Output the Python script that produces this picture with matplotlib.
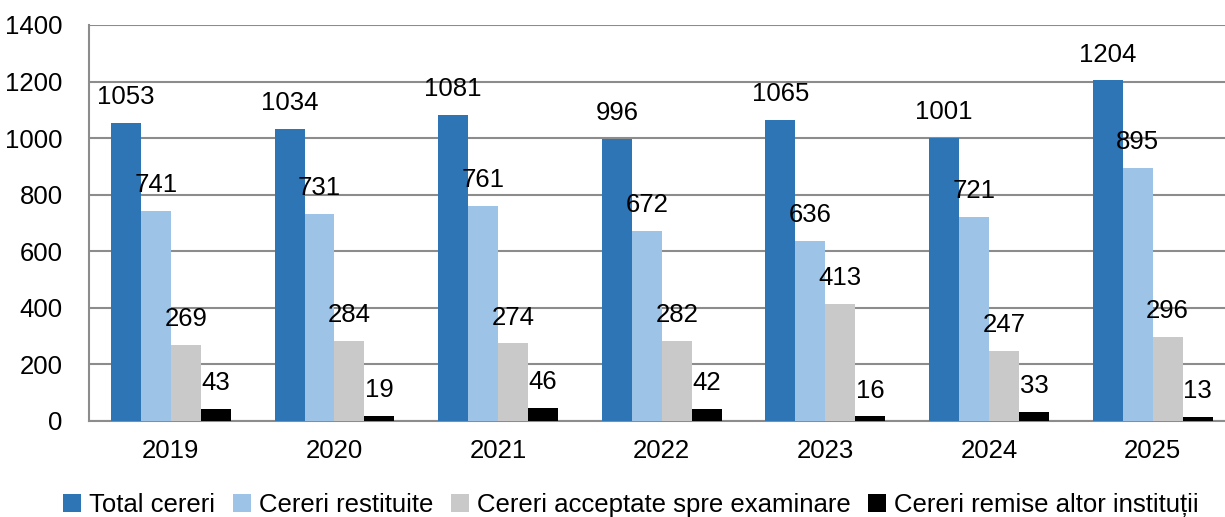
import numpy as np
import matplotlib
matplotlib.use("Agg")
import matplotlib.pyplot as plt

# Data.
years = ["2019", "2020", "2021", "2022", "2023", "2024", "2025"]
total_cereri = [1053, 1034, 1081, 996, 1065, 1001, 1204]
cereri_restituite = [741, 731, 761, 672, 636, 721, 895]
cereri_acceptate = [269, 284, 274, 282, 413, 247, 296]
cereri_remise = [43, 19, 46, 42, 16, 33, 13]

series_labels = ["Total cereri", "Cereri restituite",
                 "Cereri acceptate spre examinare", "Cereri remise altor instituții"]
series_colors = ["#2E75B6", "#9DC3E6", "#C9C9C9", "#000000"]

plt.rcParams['font.family'] = ['Liberation Sans', 'DejaVu Sans']
fs = 18.5

fig = plt.figure(figsize=(12.25, 5.17), dpi=100)
ax = fig.add_axes([0.0727, 0.1857, 0.935, 0.766])

x = np.arange(len(years))
width = 0.183
series = [total_cereri, cereri_restituite, cereri_acceptate, cereri_remise]
for i, (values, label, color) in enumerate(zip(series, series_labels, series_colors)):
    pos = x + (i - 1.5) * width
    ax.bar(pos, values, width, color=color, label=label, zorder=3)
    for px, v in zip(pos, values):
        ax.annotate(str(v), (px, v), xytext=(0, 10), textcoords="offset points",
                    ha="center", va="bottom", fontsize=fs, color="black")

ax.set_xlim(-0.5, len(years) - 0.5)
ax.set_ylim(0, 1400)
ax.set_yticks(range(0, 1401, 200))
ax.set_xticks(x)
ax.set_xticklabels(years)
ax.tick_params(axis="both", length=0, labelsize=fs, colors="black")
ax.tick_params(axis="x", pad=13)
ax.tick_params(axis="y", pad=19)
ax.yaxis.grid(True, color="#8C8C8C", linewidth=1.5, zorder=0)
ax.set_axisbelow(True)
for side in ["top", "right"]:
    ax.spines[side].set_visible(False)
for side in ["left", "bottom"]:
    ax.spines[side].set_color("#8C8C8C")
    ax.spines[side].set_linewidth(1.5)

fig.legend(loc="lower center", bbox_to_anchor=(0.515, -0.045), ncol=4, frameon=False,
           fontsize=fs, handlelength=0.7, handleheight=0.7, handletextpad=0.3,
           columnspacing=0.7)

fig.savefig("out.png", dpi=100)
